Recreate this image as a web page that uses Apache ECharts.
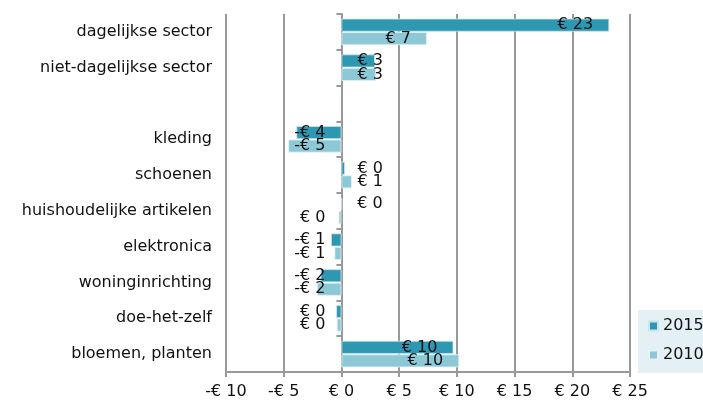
<!DOCTYPE html>
<html>
<head>
<meta charset="utf-8">
<script src="https://cdn.jsdelivr.net/npm/echarts@6/dist/echarts.min.js"></script>
<style>
html,body{margin:0;padding:0;background:#fff;}
#chart{width:703px;height:401px;}
</style>
</head>
<body>
<div id="chart"></div>
<script>
var categories = ['dagelijkse sector', 'niet-dagelijkse sector', '', 'kleding', 'schoenen', 'huishoudelijke artikelen', 'elektronica', 'woninginrichting', 'doe-het-zelf', 'bloemen, planten'];
var values2015 = [23.2, 2.9, null, -3.9, 0.3, 0.05, -0.9, -1.8, -0.45, 9.7];
var values2010 = [7.4, 3.0, null, -4.6, 0.9, -0.25, -0.6, -2.1, -0.4, 10.2];
var xTicks = { min: -10, max: 25, interval: 5 };
var seriesNames = ['2015', '2010'];
var colors = ['#2E97B2', '#8CC8D5'];

var FONT = "'DejaVu Sans', Verdana, sans-serif";
var FS = 16;

function euro(v) {
  var r = Math.round(v);
  if (r < 0) return '-€ ' + Math.abs(r);
  return '€ ' + Math.abs(r);
}
function buildData(vals) {
  return vals.map(function (v) {
    if (v === null) return { value: null };
    var pos;
    if (v >= 5) pos = 'insideRight';
    else if (v >= 0) pos = 'insideLeft';
    else pos = 'insideRight';
    return { value: v, label: { position: pos } };
  });
}

var chart = echarts.init(document.getElementById('chart'), null, { renderer: 'canvas' });
var gridLine = '#999999';
var option = {
  animation: false,
  textStyle: { fontFamily: FONT },
  grid: { left: 226, right: 73, top: 14, bottom: 29, containLabel: false },
  legend: {
    orient: 'vertical',
    left: 638,
    top: 310,
    padding: [8, 4, 10, 10],
    backgroundColor: '#E4F0F4',
    itemWidth: 9,
    itemHeight: 9,
    itemGap: 13,
    icon: 'rect',
    data: seriesNames,
    textStyle: { fontFamily: FONT, fontSize: FS, color: '#111' }
  },
  xAxis: {
    type: 'value',
    min: xTicks.min,
    max: xTicks.max,
    interval: xTicks.interval,
    axisLine: { show: true, onZero: false, lineStyle: { color: gridLine, width: 2 } },
    axisTick: { show: true, length: 5, lineStyle: { color: gridLine, width: 2 } },
    splitLine: { show: true, lineStyle: { color: gridLine, width: 2 } },
    axisLabel: { formatter: euro, fontFamily: FONT, fontSize: FS, color: '#111', margin: 12 }
  },
  yAxis: [
    {
      type: 'category',
      inverse: true,
      position: 'left',
      data: categories,
      axisLine: { show: false, onZero: false },
      axisTick: { show: false },
      axisLabel: { fontFamily: FONT, fontSize: FS, color: '#111', margin: 14 }
    },
    {
      type: 'category',
      inverse: true,
      position: 'left',
      data: categories,
      axisLine: { show: true, onZero: true, lineStyle: { color: gridLine, width: 2 } },
      axisTick: { show: true, length: 5, lineStyle: { color: gridLine, width: 2 } },
      axisLabel: { show: false }
    }
  ],
  series: [
    {
      name: seriesNames[0],
      type: 'bar',
      yAxisIndex: 0,
      data: buildData(values2015),
      barCategoryGap: '26%',
      barGap: '4%',
      itemStyle: { color: colors[0], borderColor: '#c9e6ee', borderWidth: 0.8 },
      label: { show: true, formatter: function (p) { return euro(p.value); }, distance: 16, fontFamily: FONT, fontSize: FS, color: '#111' }
    },
    {
      name: seriesNames[1],
      type: 'bar',
      yAxisIndex: 0,
      data: buildData(values2010),
      barCategoryGap: '26%',
      barGap: '4%',
      itemStyle: { color: colors[1], borderColor: '#e4f3f6', borderWidth: 0.8 },
      label: { show: true, formatter: function (p) { return euro(p.value); }, distance: 16, fontFamily: FONT, fontSize: FS, color: '#111' }
    }
  ]
};
chart.setOption(option);
</script>
</body>
</html>
